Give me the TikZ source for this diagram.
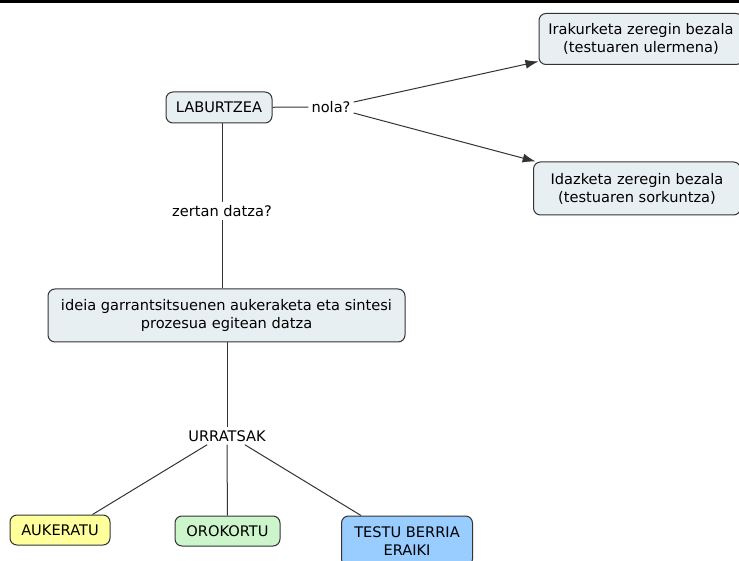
\documentclass[tikz,border=0pt]{standalone}
\usepackage{fontspec}
\setmainfont{DejaVu Sans}
\usetikzlibrary{arrows.meta,positioning}

\definecolor{boxfill}{HTML}{E8EFF3}
\definecolor{linegray}{HTML}{333333}
\definecolor{yellowfill}{HTML}{FFFF9C}
\definecolor{greenfill}{HTML}{CCF5CC}
\definecolor{bluefill}{HTML}{99CCFF}

\begin{document}
\begin{tikzpicture}[x=1pt, y=-1pt, >={Latex[length=13pt,width=9pt]},
		concept/.style={draw=linegray, fill=boxfill, rounded corners=7pt, line width=1pt,
			align=center, inner sep=4pt, font=\fontsize{14.6}{18}\selectfont},
		linklabel/.style={inner sep=3pt, font=\fontsize{14.6}{17}\selectfont},
		link/.style={draw=linegray, line width=1pt}]
		% 1. Frame of the picture (black band on top)
		\useasboundingbox (0,0) rectangle (739,561);
		\fill[black] (0,0) rectangle (739,3);

		% 2. The concepts
		\node[concept, minimum width=106pt, minimum height=31pt] (laburtzea) at (219,107.5) {LABURTZEA};
		\node[concept, minimum width=204pt, minimum height=51pt] (irakurketa) at (641,39) {Irakurketa zeregin bezala\\(testuaren ulermena)};
		\node[concept, minimum width=207pt, minimum height=53pt] (idazketa) at (637,188.5) {Idazketa zeregin bezala\\(testuaren sorkuntza)};
		\node[concept, minimum width=357pt, minimum height=53pt] (ideia) at (226.5,315.5) {ideia garrantsitsuenen aukeraketa eta sintesi\\prozesua egitean datza};
		\node[concept, fill=yellowfill, minimum width=100pt, minimum height=30pt] (aukeratu) at (60,530) {AUKERATU};
		\node[concept, fill=greenfill, minimum width=105pt, minimum height=30pt] (orokortu) at (227.5,531) {OROKORTU};
		\node[concept, fill=bluefill, minimum width=131pt, minimum height=50pt] (testu) at (407,541) {TESTU BERRIA\\ERAIKI};

		% 3. Linking words
		\node[linklabel] (nola) at (331,107) {nola?};
		\node[linklabel] (zertan) at (222,211) {zertan datza?};
		\node[linklabel] (urratsak) at (227,436) {URRATSAK};

		% 4. Connectors
		\draw[link] (laburtzea) -- (nola);
		\draw[link, ->] (nola) -- (irakurketa);
		\draw[link, ->] (nola) -- (idazketa);
		\draw[link] (laburtzea.south -| zertan.north) -- (zertan);
		\draw[link] (zertan) -- (ideia.north -| zertan.south);
		\draw[link] (ideia.south -| urratsak.north) -- (urratsak);
		\draw[link] ([xshift=22pt]urratsak.south west) -- ([xshift=-18pt]aukeratu.north east);
		\draw[link] (urratsak) -- (orokortu);
		\draw[link] ([xshift=-24pt]urratsak.south east) -- ([xshift=20pt]testu.north west);
	\end{tikzpicture}
\end{document}
